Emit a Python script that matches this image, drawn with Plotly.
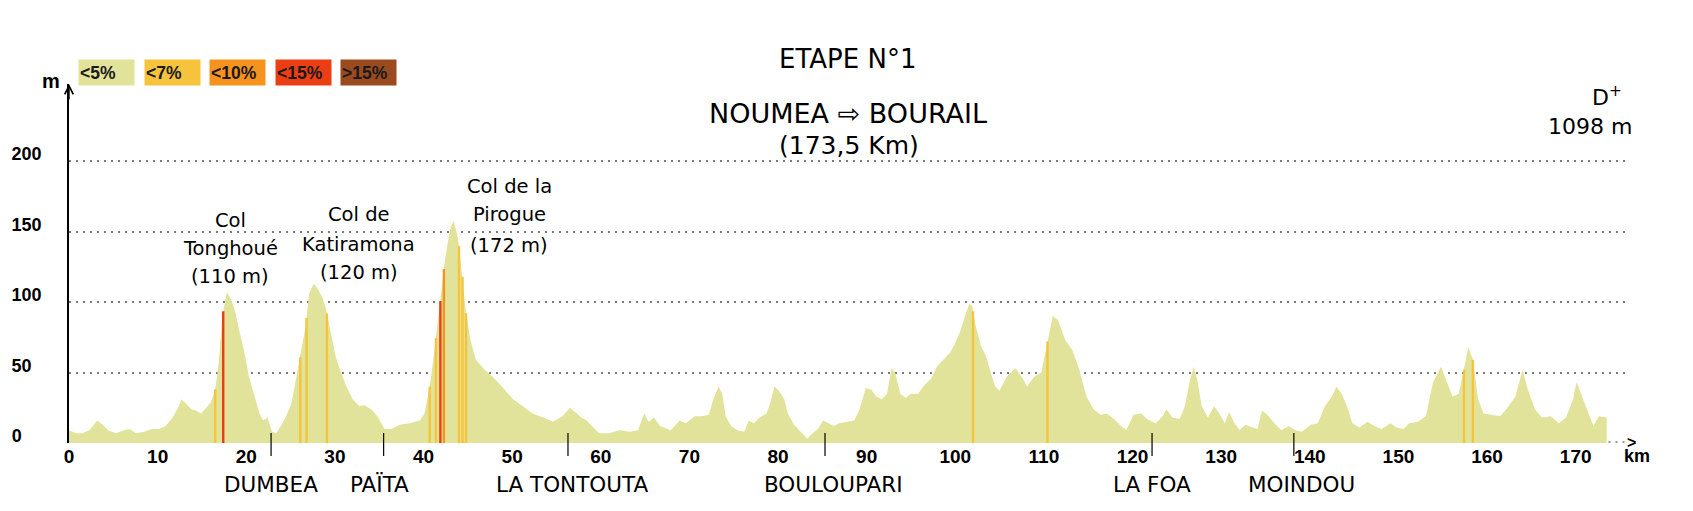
import numpy as np
import plotly.graph_objects as go

# ---------------- data ----------------
km = [0.0, 0.8, 1.5, 2.3, 3.2, 3.8, 4.4, 5.3, 6.2, 6.8, 7.6, 8.5, 9.3, 10.2, 10.9, 11.7, 12.3, 12.7,
      13.2, 13.8, 14.3, 14.9, 15.5, 16.0, 16.5, 16.9, 17.3, 17.8, 18.3, 18.8, 19.2, 19.8, 20.3, 20.9,
      21.5, 21.9, 22.4, 22.9, 23.4, 23.9, 24.5, 25.1, 25.6, 26.2, 26.7, 27.1, 27.6, 28.1, 28.6, 29.0,
      29.6, 30.1, 30.7, 31.3, 32.0, 32.8, 33.3, 34.1, 34.8, 35.6, 36.4, 37.3, 38.4, 39.6, 40.1, 40.7,
      41.2, 41.8, 42.4, 43.0, 43.4, 43.9, 44.4, 44.8, 45.3, 45.9, 46.9, 47.8, 49.0, 50.1, 51.2, 52.3,
      53.5, 54.6, 55.7, 56.5, 57.3, 57.8, 58.4, 59.0, 59.8, 60.9, 62.1, 63.3, 64.2, 64.9, 65.4, 66.0,
      66.7, 67.9, 68.9, 69.6, 70.6, 71.4, 72.2, 72.7, 73.3, 73.7, 74.1, 74.7, 75.4, 76.2, 76.7, 77.3,
      77.9, 78.7, 79.1, 79.6, 80.1, 80.7, 81.1, 81.8, 82.6, 83.3, 83.9, 84.5, 85.1, 85.7, 86.3, 86.9,
      87.8, 88.6, 89.2, 89.9, 90.5, 91.1, 91.7, 92.3, 92.8, 93.2, 93.8, 94.4, 95.0, 95.8, 96.5, 97.3,
      97.9, 98.7, 99.4, 100.0, 100.6, 101.2, 101.6, 101.9, 102.3, 102.9, 103.5, 103.9, 104.5, 105.0,
      105.8, 106.8, 107.6, 108.1, 108.9, 109.7, 110.3, 111.0, 111.6, 112.4, 113.2, 114.0, 114.8, 115.6,
      116.4, 117.1, 117.9, 118.7, 119.3, 120.1, 121.0, 121.6, 122.6, 123.4, 123.8, 124.5, 125.3, 125.9,
      126.5, 126.9, 127.3, 127.8, 128.5, 129.2, 129.8, 130.4, 130.9, 131.5, 132.1, 132.7, 133.5, 134.1,
      134.6, 135.2, 136.0, 136.8, 137.6, 138.4, 139.1, 140.1, 140.9, 141.7, 142.5, 143.0, 143.6, 144.2,
      144.8, 145.6, 146.5, 147.3, 148.1, 149.1, 149.8, 150.6, 151.2, 152.2, 153.1, 153.9, 154.8, 155.5,
      156.1, 156.8, 157.4, 157.9, 158.4, 159.0, 159.6, 160.5, 161.5, 162.3, 163.2, 164.0, 164.6, 165.4,
      166.2, 167.2, 168.1, 168.9, 169.7, 170.1, 170.6, 171.4, 172.0, 172.6, 173.4, 173.5]
elev = [9, 7, 7, 9, 16, 13, 9, 7, 9, 10, 7, 8, 10, 10, 12, 18, 25, 31,
        28, 24, 23, 21, 25, 29, 38, 57, 90, 107, 102, 92, 80, 64, 47, 33,
        21, 16, 18, 8, 7, 12, 19, 28, 45, 64, 83, 106, 113, 109, 103, 95,
        76, 61, 50, 40, 31, 26, 27, 24, 19, 10, 10, 13, 14, 16, 21, 40,
        64, 95, 129, 152, 158, 145, 118, 92, 73, 59, 52, 47, 39, 31, 26, 21,
        18, 15, 19, 25, 21, 18, 16, 12, 7, 7, 9, 8, 9, 21, 15, 18,
        12, 9, 16, 14, 19, 19, 20, 31, 40, 35, 19, 12, 9, 8, 16, 14,
        18, 21, 28, 40, 37, 31, 21, 13, 8, 3, 7, 10, 16, 14, 12, 14,
        15, 16, 24, 39, 38, 33, 31, 35, 53, 50, 35, 32, 35, 35, 41, 46,
        54, 59, 64, 71, 80, 92, 99, 97, 83, 69, 61, 52, 40, 37,
        47, 53, 46, 40, 47, 50, 69, 90, 87, 73, 66, 52, 33, 24,
        20, 21, 17, 12, 9, 20, 21, 17, 14, 19, 24, 18, 17, 26,
        45, 54, 45, 26, 18, 26, 21, 14, 22, 14, 9, 13, 11, 10,
        23, 20, 14, 9, 12, 9, 8, 13, 14, 26, 33, 40, 35, 26,
        14, 11, 15, 12, 10, 14, 11, 10, 14, 15, 19, 43, 54, 43,
        33, 35, 52, 68, 59, 31, 21, 20, 19, 25, 33, 52, 38, 24,
        18, 19, 14, 18, 31, 43, 35, 21, 12, 19, 18, 18]

grade_classes = ["<5%", "<7%", "<10%", "<15%", ">15%"]
grade_labels = ["&lt;5%", "&lt;7%", "&lt;10%", "&lt;15%", "&gt;15%"]
grade_colors = ["#E2E39B", "#F5C43C", "#F6931E", "#EB3E14", "#9A4A1E"]

steep_km = [16.5, 17.4, 26.1, 26.8, 29.1, 40.7, 41.4, 41.9, 42.3, 44.0, 44.4, 44.8,
            102.0, 110.4, 157.4, 158.4]
steep_class = ["<7%", "<15%", "<7%", "<7%", "<7%", "<7%", "<7%", "<15%", "<10%", "<7%", "<7%", "<7%",
               "<7%", "<7%", "<7%", "<7%"]

y_ticks = [0, 50, 100, 150, 200]
y_tick_text = ["0\u00a0\u00a0\u00a0\u00a0", "50\u00a0\u00a0", "100", "150", "200"]
x_ticks = list(range(0, 171, 10))

town_names = ["DUMBEA", "PAÏTA", "LA TONTOUTA", "BOULOUPARI", "LA FOA", "MOINDOU"]
town_mark_km = [22.8, 35.5, 56.3, 85.3, 122.2, 138.2]
town_label_km = [22.8, 35.0, 56.8, 86.2, 122.2, 139.1]

col_lines = [["Col", "Tonghoué", "(110 m)"],
             ["Col de", "Katiramona", "(120 m)"],
             ["Col de la", "Pirogue", "(172 m)"]]
col_label_km = [18.2, 32.7, 49.7]
col_label_elev = [[158, 138, 118], [162, 141, 121], [182, 162, 140]]

# ---------------- layout geometry (pixels) ----------------
W, H = 1693, 511
L, R, T, B = 66, 1627, 84, 443
X_MAX = (R - L) / 8.88
Y_MAX = (B - T) / 1.41

def px_x(px):
    return (px - L) / (R - L)

def px_y(py):
    return (B - py) / (B - T)

TITLE_FONT = "DejaVu Sans"
AXIS_FONT = "Liberation Sans Narrow, Arial Narrow, Liberation Sans, Arial"

fig = go.Figure()

fill_col = grade_colors[0]
fig.add_trace(go.Scatter(x=km, y=elev, mode="lines", fill="tozeroy",
                         line=dict(width=0, color=fill_col), fillcolor=fill_col,
                         hoverinfo="skip", showlegend=False))

# steep segments as thin vertical coloured strips drawn over the profile
cmap = dict(zip(grade_classes, grade_colors))
steep_h = np.interp(steep_km, km, elev)
for cls in grade_classes[1:]:
    xs, ys = [], []
    for k, h, c in zip(steep_km, steep_h, steep_class):
        if c == cls:
            xs += [k, k, None]
            ys += [0, h, None]
    if xs:
        fig.add_trace(go.Scatter(x=xs, y=ys, mode="lines", line=dict(color=cmap[cls], width=2.4),
                                 hoverinfo="skip", showlegend=False))

annotations = []
shapes = []

def txt(x, y, text, size, family=TITLE_FONT, xref="paper", yref="paper", **kw):
    font = dict(family=family, size=size, color=kw.pop("color", "black"))
    if kw.pop("bold", False):
        font["weight"] = "bold"
    d = dict(x=x, y=y, xref=xref, yref=yref, text=text, showarrow=False,
             xanchor="center", yanchor="middle", font=font)
    d.update(kw)
    annotations.append(d)

# titles
txt(px_x(846), px_y(59), "ETAPE N°1", 26)
txt(px_x(846), px_y(113), "NOUMEA ⇨ BOURAIL", 27)
txt(px_x(848), px_y(146), "(173,5 Km)", 25)
txt(px_x(1607), px_y(96), "D<sup>+</sup>", 22)
txt(px_x(1590), px_y(127), "1098 m", 22)

# pass labels
for lines, xk, ys in zip(col_lines, col_label_km, col_label_elev):
    for t, yy in zip(lines, ys):
        txt(xk, yy, t, 19.5, xref="x", yref="y")

# towns
for name, mk, lk in zip(town_names, town_mark_km, town_label_km):
    shapes.append(dict(type="line", xref="x", yref="paper", x0=mk, x1=mk,
                       y0=px_y(433), y1=px_y(456), line=dict(color="black", width=1.2)))
    txt(lk, px_y(484), name, 21.5, xref="x")

# dotted continuation of the distance axis beyond the finish
shapes.append(dict(type="line", xref="x", yref="paper", x0=km[-1] + 0.2, x1=X_MAX,
                   y0=px_y(442), y1=px_y(442), line=dict(color="#7a7a7a", width=1.5, dash="2px,5px")))

# legend boxes
box_centers = [103.5, 169.5, 235, 301, 366.5]
for lab, col, cx in zip(grade_labels, grade_colors, box_centers):
    txt(px_x(cx), px_y(72.5), lab, 17.5, family=AXIS_FONT, bold=True, color="#1a1a1a",
        bgcolor=col, width=53, height=23, align="left", borderpad=1)

# axis arrows / unit labels
annotations.append(dict(x=0, y=Y_MAX, xref="x", yref="y", ax=0, ay=Y_MAX - 12, axref="x", ayref="y",
                        text="", showarrow=True, arrowhead=5, arrowsize=1.2, arrowwidth=1.4,
                        arrowcolor="black", standoff=0))
txt(px_x(48), px_y(81), "m", 20, family=AXIS_FONT, bold=True)
txt(px_x(1632), px_y(442), "&gt;", 16, family=AXIS_FONT, bold=True)
txt(px_x(1637), px_y(456), "km", 18, family=AXIS_FONT, bold=True)

fig.update_layout(
    width=W, height=H, autosize=False,
    margin=dict(l=L, r=W - R, t=T, b=H - B, pad=0),
    paper_bgcolor="white", plot_bgcolor="white",
    showlegend=False,
    annotations=annotations, shapes=shapes,
    xaxis=dict(range=[0, X_MAX], tickvals=x_ticks, showgrid=False, zeroline=False, showline=False,
               ticks="", fixedrange=True,
               tickfont=dict(family=AXIS_FONT, size=19, color="black", weight="bold")),
    yaxis=dict(range=[0, Y_MAX], tickvals=y_ticks, ticktext=y_tick_text, showgrid=True,
               gridcolor="#7a7a7a", gridwidth=1.5,
               griddash="2px,5px", zeroline=False, showline=True, linecolor="black", linewidth=1.5,
               ticks="", ticklabelstandoff=22, ticklabelshift=-7, fixedrange=True,
               tickfont=dict(family=AXIS_FONT, size=18, color="black", weight="bold")),
)

fig.write_html("out.html", config={"displayModeBar": False},
               post_script="document.body.style.margin='0px';")
